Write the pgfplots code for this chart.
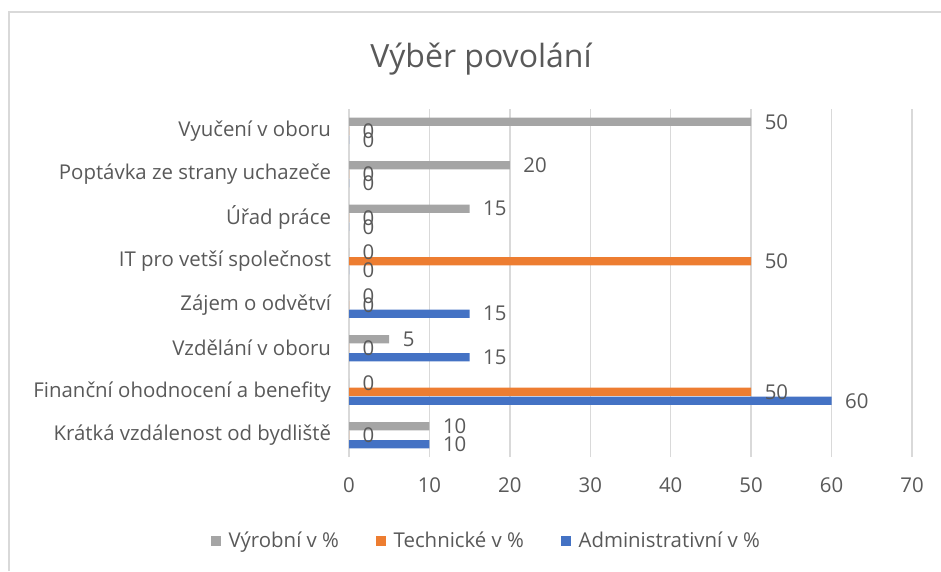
\documentclass[border=0pt]{standalone}
\usepackage{pgfplots}
\pgfplotsset{compat=1.18}
\usepackage{fontspec}
\setmainfont{Open Sans}
\definecolor{cgray}{HTML}{A5A5A5}
\definecolor{corange}{HTML}{ED7D31}
\definecolor{cblue}{HTML}{4472C4}
\definecolor{txt}{HTML}{595959}
\definecolor{gridc}{HTML}{D9D9D9}
\begin{document}
\begin{tikzpicture}
\path[use as bounding box] (0pt,0pt) rectangle (705.75pt,428.25pt);
\draw[gridc, line width=1.5pt] (6.75pt,0pt) -- (6.75pt,419.25pt) -- (705.75pt,419.25pt);
\node[text=txt, font=\fontsize{24}{28}\selectfont] at (360.75pt,384pt) {Výběr povolání};
\begin{axis}[
  at={(261.75pt,85.5pt)}, anchor=south west,
  scale only axis, width=422.25pt, height=261pt,
  xmin=0, xmax=70, ymin=-0.5, ymax=7.5,
  xbar, bar width=6.2pt,
  ytick={0,...,7},
  yticklabels={Krátká vzdálenost od bydliště, Finanční ohodnocení a benefity, Vzdělání v oboru, Zájem o odvětví, IT pro vetší společnost, Úřad práce, Poptávka ze strany uchazeče, Vyučení v oboru},
  xtick={0,10,...,70},
  xmajorgrids, grid style={gridc, line width=1pt},
  axis line style={draw=none},
  major tick length=0pt,
  tick label style={text=txt, font=\fontsize{15.3}{18}\selectfont},
  /pgf/number format/assume math mode=true,
  yticklabel style={xshift=-10pt},
  xticklabel style={yshift=-12pt},
  nodes near coords,
  every node near coord/.append style={text=txt, font=\fontsize{15.3}{18}\selectfont, anchor=west, inner sep=0pt, xshift=10pt},
  legend columns=3,
  legend style={at={(0.245,-0.24)}, anchor=center, draw=none, fill=none,
    font=\fontsize{15.3}{18}\selectfont, text=txt, inner sep=0pt,
    /tikz/every even column/.append style={column sep=26pt}},
  legend image code/.code={\fill[#1] (0pt,-3.75pt) rectangle (7.5pt,3.75pt); \path (11pt,0pt);},
]
\addplot[fill=cgray, draw=none, bar shift=6.75pt] coordinates {(10,0) (0,1) (5,2) (0,3) (0,4) (15,5) (20,6) (50,7)};
\addlegendentry{Výrobní v \%}
\addplot[fill=corange, draw=none, bar shift=0pt] coordinates {(0,0) (50,1) (0,2) (0,3) (50,4) (0,5) (0,6) (0,7)};
\addlegendentry{Technické v \%}
\addplot[fill=cblue, draw=none, bar shift=-6.75pt] coordinates {(10,0) (60,1) (15,2) (15,3) (0,4) (0,5) (0,6) (0,7)};
\addlegendentry{Administrativní v \%}
\end{axis}
\end{tikzpicture}
\end{document}
